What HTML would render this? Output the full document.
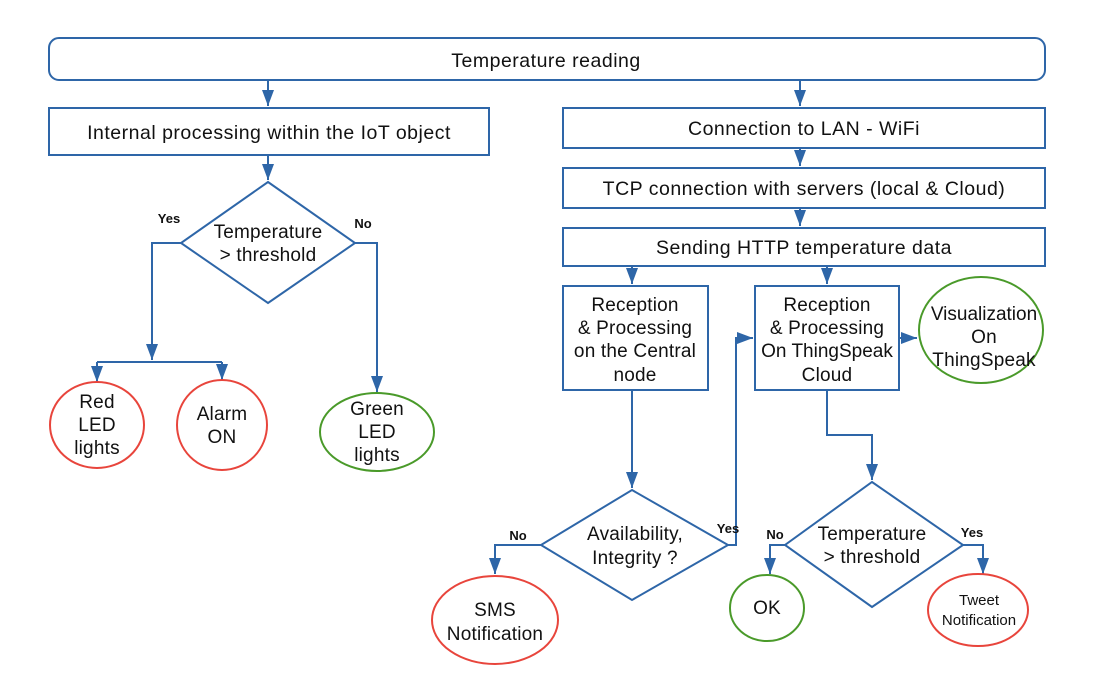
<!DOCTYPE html>
<html><head><meta charset="utf-8"><style>
html,body{margin:0;padding:0;background:#fff;}
svg{display:block;}
text{font-family:"Liberation Sans","DejaVu Sans",sans-serif;fill:#111;}
.t{font-size:19.5px;letter-spacing:0.5px;text-anchor:middle;}
.s{font-size:19px;letter-spacing:0.2px;text-anchor:middle;}
.l{font-size:13px;font-weight:bold;text-anchor:middle;}
</style></head><body>
<svg width="1100" height="692" viewBox="0 0 1100 692" xmlns="http://www.w3.org/2000/svg">
<defs>
<marker id="a" viewBox="0 0 16 12" refX="16" refY="6" markerWidth="16" markerHeight="12" orient="auto" markerUnits="userSpaceOnUse"><path d="M0,0 L16,6 L0,12 z" fill="#2e66a8"/></marker>
</defs>
<g fill="none" stroke="#2e66a8" stroke-width="2">
<rect x="49" y="38" width="996" height="42" rx="10" ry="10"/>
<rect x="49" y="108" width="440" height="47"/>
<rect x="563" y="108" width="482" height="40"/>
<rect x="563" y="168" width="482" height="40"/>
<rect x="563" y="228" width="482" height="38"/>
<rect x="563" y="286" width="145" height="104"/>
<rect x="755" y="286" width="144" height="104"/>
<polygon points="268,182 355,243 268,303 181,243"/>
<polygon points="632,490 728,545 632,600 541,545"/>
<polygon points="872,482 963,545 872,607 785,545"/>
</g>
<g fill="none" stroke="#2e66a8" stroke-width="2">
<path d="M268,80 V106" marker-end="url(#a)"/>
<path d="M800,80 V106" marker-end="url(#a)"/>
<path d="M268,155 V180" marker-end="url(#a)"/>
<path d="M800,148 V166" marker-end="url(#a)"/>
<path d="M800,208 V226" marker-end="url(#a)"/>
<path d="M632,266 V284" marker-end="url(#a)"/>
<path d="M827,266 V284" marker-end="url(#a)"/>
<path d="M181,243 H152 V360" marker-end="url(#a)"/>
<path d="M97,362 H222"/>
<path d="M97,362 V382" marker-end="url(#a)"/>
<path d="M222,362 V380" marker-end="url(#a)"/>
<path d="M355,243 H377 V392" marker-end="url(#a)"/>
<path d="M899,338 H917" marker-end="url(#a)"/>
<path d="M632,390 V488" marker-end="url(#a)"/>
<path d="M728,545 H736 V338 H753" marker-end="url(#a)"/>
<path d="M541,545 H495 V574" marker-end="url(#a)"/>
<path d="M827,390 V435 H872 V480" marker-end="url(#a)"/>
<path d="M785,545 H770 V574" marker-end="url(#a)"/>
<path d="M963,545 H983 V574" marker-end="url(#a)"/>
</g>
<g fill="none" stroke-width="2">
<ellipse cx="97" cy="425" rx="47" ry="43" stroke="#e8453c"/>
<ellipse cx="222" cy="425" rx="45" ry="45" stroke="#e8453c"/>
<ellipse cx="377" cy="432" rx="57" ry="39" stroke="#4a9a2a"/>
<ellipse cx="981" cy="330" rx="62" ry="53" stroke="#4a9a2a"/>
<ellipse cx="495" cy="620" rx="63" ry="44" stroke="#e8453c"/>
<ellipse cx="767" cy="608" rx="37" ry="33" stroke="#4a9a2a"/>
<ellipse cx="978" cy="610" rx="50" ry="36" stroke="#e8453c"/>
</g>
<text class="t" x="546" y="67">Temperature reading</text>
<text class="t" x="269" y="139">Internal processing within the IoT object</text>
<text class="t" x="804" y="135">Connection to LAN - WiFi</text>
<text class="t" x="804" y="195">TCP connection with servers (local &amp; Cloud)</text>
<text class="t" x="804" y="254">Sending HTTP temperature data</text>
<text class="s" x="268" y="238">Temperature</text>
<text class="s" x="268" y="261">&gt; threshold</text>
<text class="l" x="169" y="223">Yes</text>
<text class="l" x="363" y="228">No</text>
<text class="s" x="97" y="408">Red</text><text class="s" x="97" y="431">LED</text><text class="s" x="97" y="454">lights</text>
<text class="s" x="222" y="420">Alarm</text><text class="s" x="222" y="443">ON</text>
<text class="s" x="377" y="415">Green</text><text class="s" x="377" y="438">LED</text><text class="s" x="377" y="461">lights</text>
<text class="s" x="635" y="311">Reception</text><text class="s" x="635" y="334">&amp; Processing</text><text class="s" x="635" y="357">on the Central</text><text class="s" x="635" y="381">node</text>
<text class="s" x="827" y="311">Reception</text><text class="s" x="827" y="334">&amp; Processing</text><text class="s" x="827" y="357" style="letter-spacing:0">On ThingSpeak</text><text class="s" x="827" y="381">Cloud</text>
<text class="s" x="984" y="320" style="letter-spacing:0">Visualization</text><text class="s" x="984" y="343">On</text><text class="s" x="984" y="366">ThingSpeak</text>
<text class="s" x="635" y="540">Availability,</text><text class="s" x="635" y="564">Integrity ?</text>
<text class="l" x="728" y="533">Yes</text>
<text class="l" x="518" y="540">No</text>
<text class="s" x="495" y="616">SMS</text><text class="s" x="495" y="640">Notification</text>
<text class="s" x="872" y="540">Temperature</text><text class="s" x="872" y="563">&gt; threshold</text>
<text class="l" x="775" y="539">No</text>
<text class="l" x="972" y="537">Yes</text>
<text class="s" x="767" y="614">OK</text>
<text x="979" y="605" style="font-size:15px;text-anchor:middle">Tweet</text>
<text x="979" y="625" style="font-size:15px;text-anchor:middle">Notification</text>
</svg>
</body></html>
